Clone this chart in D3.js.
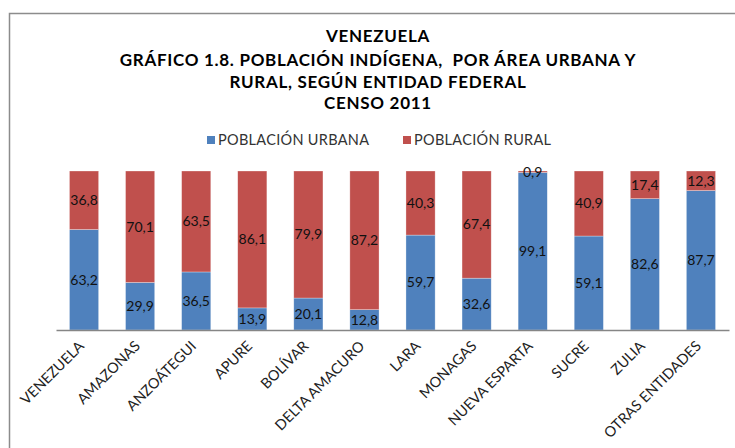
<!DOCTYPE html>
<html>
<head>
<meta charset="utf-8">
<script src="https://cdn.jsdelivr.net/npm/d3@7"></script>
<style>
  body { margin: 0; background: #fff; }
  svg { display: block; font-family: Lato, "Open Sans", sans-serif; }
</style>
</head>
<body>
<div id="vis"></div>
<script>
var categories = ['VENEZUELA', 'AMAZONAS', 'ANZOÁTEGUI', 'APURE', 'BOLÍVAR', 'DELTA AMACURO',
    'LARA', 'MONAGAS', 'NUEVA ESPARTA', 'SUCRE', 'ZULIA', 'OTRAS ENTIDADES'];
var urbana = [63.2, 29.9, 36.5, 13.9, 20.1, 12.8, 59.7, 32.6, 99.1, 59.1, 82.6, 87.7];
var rural = [36.8, 70.1, 63.5, 86.1, 79.9, 87.2, 40.3, 67.4, 0.9, 40.9, 17.4, 12.3];
var series_names = ['POBLACIÓN URBANA', 'POBLACIÓN RURAL'];
var title_lines = ['VENEZUELA', 'GRÁFICO 1.8. POBLACIÓN INDÍGENA,  POR ÁREA URBANA Y',
    'RURAL, SEGÚN ENTIDAD FEDERAL', 'CENSO 2011'];

var width = 735;
var height = 448;
var colours = ['#4F81BD', '#C0504D'];

var margin = { top: 171, bottom: 118, left: 56, right: 6 };

var svg = d3.select('#vis')
    .append('svg')
    .attr('width', width)
    .attr('height', height);

// outer frame
svg.append('path')
    .attr('d', 'M9.5,' + height + 'V13.5H' + width)
    .attr('fill', 'none')
    .attr('stroke', '#8c8c8c')
    .attr('stroke-width', 1.5);

// title
svg.append('g')
    .selectAll('text')
    .data(title_lines)
    .enter()
    .append('text')
    .attr('x', 378)
    .attr('y', function(d, i) { return [42, 66, 88, 109][i]; })
    .attr('text-anchor', 'middle')
    .attr('font-size', 17)
    .attr('font-weight', 'bold')
    .attr('letter-spacing', 0.7)
    .attr('fill', '#000')
    .style('white-space', 'pre')
    .text(function(d) { return d; });

// legend
var legend = svg.append('g');
var legend_x = [207, 403];
series_names.forEach(function(name, i) {
    legend.append('rect')
        .attr('x', legend_x[i])
        .attr('y', 136)
        .attr('width', 8)
        .attr('height', 8)
        .attr('fill', colours[i]);
    legend.append('text')
        .attr('x', legend_x[i] + 11)
        .attr('y', 145)
        .attr('font-size', 14.5)
        .attr('letter-spacing', 0.3)
        .attr('fill', '#333')
        .text(name);
});

var g = svg.append('g')
    .attr('transform', 'translate(' + margin.left + ',' + margin.top + ')');

var w = width - margin.left - margin.right;
var h = height - margin.top - margin.bottom;

var x_scale = d3.scaleBand()
    .domain(categories)
    .range([0, w])
    .paddingInner(0.48)
    .paddingOuter(0.24);

var y_scale = d3.scaleLinear()
    .domain([0, 100])
    .range([h, 0]);

var rows = categories.map(function(c, i) {
    return { cat: c, urbana: urbana[i], rural: rural[i] };
});

var stack = d3.stack().keys(['urbana', 'rural']);
var layers = stack(rows);

var layer = g.selectAll('.layer')
    .data(layers)
    .enter()
    .append('g')
    .attr('class', 'layer')
    .attr('fill', function(d, i) { return colours[i]; });

layer.selectAll('rect')
    .data(function(d) { return d; })
    .enter()
    .append('rect')
    .attr('x', function(d) { return x_scale(d.data.cat); })
    .attr('y', function(d) { return y_scale(d[1]); })
    .attr('width', x_scale.bandwidth())
    .attr('height', function(d) { return y_scale(d[0]) - y_scale(d[1]); })
    .attr('stroke', '#ffffff')
    .attr('stroke-opacity', 0.5)
    .attr('stroke-width', 0.6);

layer.selectAll('text')
    .data(function(d) { return d; })
    .enter()
    .append('text')
    .attr('x', function(d) { return x_scale(d.data.cat) + x_scale.bandwidth() / 2; })
    .attr('y', function(d) { return (y_scale(d[0]) + y_scale(d[1])) / 2; })
    .attr('dy', '0.35em')
    .attr('text-anchor', 'middle')
    .attr('font-size', 14)
    .attr('fill', '#111')
    .text(function(d) { return d3.format('.1f')(d[1] - d[0]).replace('.', ','); });

// x axis
var x_axis = d3.axisBottom(x_scale).tickSize(0).tickPadding(0);
var xg = g.append('g')
    .attr('class', 'x axis')
    .attr('transform', 'translate(0,' + h + ')')
    .call(x_axis);

xg.select('.domain')
    .attr('stroke', '#868686')
    .attr('stroke-width', 1.3);

xg.selectAll('.tick text')
    .attr('font-size', 14.5)
    .attr('font-family', 'Lato, sans-serif')
    .attr('fill', '#222')
    .attr('text-anchor', 'end')
    .attr('dy', 0)
    .attr('transform', 'translate(1,17) rotate(-45)');
</script>
</body>
</html>
